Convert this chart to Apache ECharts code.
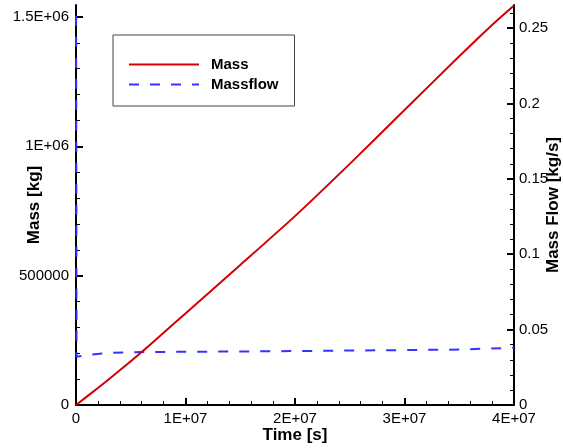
<!DOCTYPE html>
<html>
<head>
<meta charset="utf-8">
<script src="https://cdn.jsdelivr.net/npm/echarts@6/dist/echarts.min.js"></script>
<style>html,body{margin:0;padding:0;background:#fff}#c{width:563px;height:448px}</style>
</head>
<body>
<div id="c"></div>
<script>
// ---- data ----
const massTime   = [0, 2e6, 4e6, 6e6, 8e6, 1e7, 1.5e7, 2e7, 2.5e7, 3e7, 3.5e7, 3.7e7, 3.85e7, 4e7];
const massValues = [0, 66000, 134000, 205000, 279000, 354000, 541000, 730000, 932000, 1140000, 1348000, 1429000, 1488000, 1544000];
const flowTime   = [0, 5e4, 1e6, 3e6, 6e6, 1e7, 1.5e7, 2e7, 2.5e7, 3e7, 3.5e7, 4e7];
const flowValues = [0.30, 0.032, 0.0332, 0.0345, 0.0351, 0.0353, 0.0355, 0.0358, 0.0361, 0.0364, 0.0368, 0.0380];

const xTicks = [0, 1e7, 2e7, 3e7, 4e7];
const xTickLabels = ['0', '1E+07', '2E+07', '3E+07', '4E+07'];
const leftTicks = [0, 500000, 1000000, 1500000];
const leftTickLabels = ['0', '500000', '1E+06', '1.5E+06'];
const rightTicks = [0, 0.05, 0.1, 0.15, 0.2, 0.25];
const rightTickLabels = ['0', '0.05', '0.1', '0.15', '0.2', '0.25'];
const leftMinor = [100000,200000,300000,400000,600000,700000,800000,900000,1100000,1200000,1300000,1400000];
const rightMinor = [0.01,0.02,0.03,0.04,0.06,0.07,0.08,0.09,0.11,0.12,0.13,0.14,0.16,0.17,0.18,0.19,0.21,0.22,0.23,0.24,0.26];
const xMinor = [2e6,4e6,6e6,8e6,1.2e7,1.4e7,1.6e7,1.8e7,2.2e7,2.4e7,2.6e7,2.8e7,3.2e7,3.4e7,3.6e7,3.8e7];

const LEFT_MAX = 1546000, RIGHT_MAX = 0.2653;
const FONT = 'Liberation Sans, Arial, sans-serif';

function lab(values, labels) {
  return v => { const i = values.findIndex(t => Math.abs(t - v) < 1e-9 * (Math.abs(t) + 1)); return i >= 0 ? labels[i] : ''; };
}

const chart = echarts.init(document.getElementById('c'), null, {renderer: 'canvas'});
chart.setOption({
  animation: false,
  backgroundColor: '#fff',
  grid: {left: 76, right: 49, top: 5, bottom: 43, containLabel: false, outerBoundsMode: 'none'},
  legend: {
    left: 113, top: 35, orient: 'vertical',
    borderColor: '#444', borderWidth: 1,
    padding: [22, 16, 14, 15],
    itemWidth: 70, itemHeight: 14, itemGap: 5,
    itemStyle: {opacity: 0},
    textStyle: {fontFamily: FONT, fontWeight: 'bold', fontSize: 15, color: '#000', padding: [0, 0, 0, 7]},
    data: ['Mass', 'Massflow']
  },
  xAxis: [{
    type: 'value', min: 0, max: 4e7, position: 'bottom',
    name: 'Time [s]', nameLocation: 'middle', nameGap: 22, nameMoveOverlap: false,
    nameTextStyle: {fontFamily: FONT, fontWeight: 'bold', fontSize: 17, color: '#000', verticalAlign: 'top'},
    axisLine: {show: true, onZero: false, lineStyle: {color: '#000', width: 2}},
    axisTick: {show: true, inside: true, length: 7, lineStyle: {color: '#000', width: 2}, customValues: xTicks},
    axisLabel: {show: true, margin: 6, fontFamily: FONT, fontSize: 15, color: '#000', customValues: xTicks, formatter: lab(xTicks, xTickLabels)},
    splitLine: {show: false}
  }, {
    type: 'value', min: 0, max: 4e7, position: 'bottom', gridIndex: 0,
    axisLine: {show: false, onZero: false},
    axisTick: {show: true, inside: true, length: 4, lineStyle: {color: '#000', width: 1}, customValues: xMinor},
    axisLabel: {show: false},
    splitLine: {show: false}
  }],
  yAxis: [{
    type: 'value', min: 0, max: LEFT_MAX, position: 'left',
    name: 'Mass [kg]', nameLocation: 'middle', nameGap: 33, nameRotate: 90, nameMoveOverlap: false,
    nameTextStyle: {fontFamily: FONT, fontWeight: 'bold', fontSize: 17, color: '#000'},
    axisLine: {show: true, onZero: false, lineStyle: {color: '#000', width: 2}},
    axisTick: {show: true, inside: true, length: 7, lineStyle: {color: '#000', width: 2}, customValues: leftTicks},
    axisLabel: {show: true, margin: 7, fontFamily: FONT, fontSize: 15, color: '#000', customValues: leftTicks, formatter: lab(leftTicks, leftTickLabels)},
    splitLine: {show: false}
  }, {
    type: 'value', min: 0, max: RIGHT_MAX, position: 'right',
    name: 'Mass Flow [kg/s]', nameLocation: 'middle', nameGap: 31, nameRotate: 90, nameMoveOverlap: false,
    nameTextStyle: {fontFamily: FONT, fontWeight: 'bold', fontSize: 17, color: '#000'},
    axisLine: {show: true, onZero: false, lineStyle: {color: '#000', width: 2}},
    axisTick: {show: true, inside: true, length: 7, lineStyle: {color: '#000', width: 2}, customValues: rightTicks},
    axisLabel: {show: true, margin: 5, fontFamily: FONT, fontSize: 15, color: '#000', customValues: rightTicks, formatter: lab(rightTicks, rightTickLabels)},
    splitLine: {show: false}
  }, {
    type: 'value', min: 0, max: LEFT_MAX, position: 'left',
    axisLine: {show: false, onZero: false},
    axisTick: {show: true, inside: true, length: 4, lineStyle: {color: '#000', width: 1}, customValues: leftMinor},
    axisLabel: {show: false}, splitLine: {show: false}
  }, {
    type: 'value', min: 0, max: RIGHT_MAX, position: 'right',
    axisLine: {show: false, onZero: false},
    axisTick: {show: true, inside: true, length: 4, lineStyle: {color: '#000', width: 1}, customValues: rightMinor},
    axisLabel: {show: false}, splitLine: {show: false}
  }],
  series: [{
    name: 'Mass', type: 'line', xAxisIndex: 0, yAxisIndex: 0,
    data: massTime.map((t, i) => [t, massValues[i]]),
    symbol: 'none', smooth: 0.2, clip: true, z: 3,
    lineStyle: {color: '#d40000', width: 2}, itemStyle: {color: '#d40000'}
  }, {
    name: 'Massflow', type: 'line', xAxisIndex: 0, yAxisIndex: 1,
    data: flowTime.map((t, i) => [t, flowValues[i]]),
    symbol: 'none', clip: true, z: 2,
    lineStyle: {color: '#3333ff', width: 2, type: [10, 11]}, itemStyle: {color: '#3333ff'}
  }]
});
</script>
</body>
</html>
